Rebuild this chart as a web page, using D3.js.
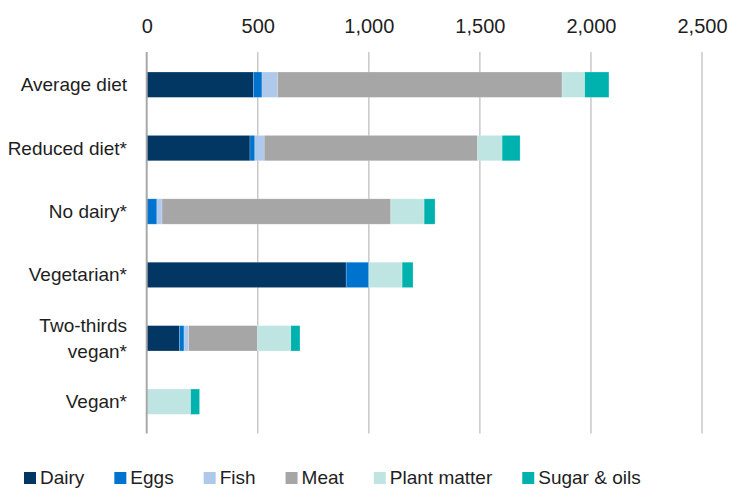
<!DOCTYPE html>
<html><head><meta charset="utf-8">
<script src="https://cdn.jsdelivr.net/npm/d3@7"></script>
<style>body{margin:0;background:#fff}svg{display:block}text{font-family:"Liberation Sans",Arial,sans-serif;fill:#1e1e1e}</style>
</head><body><svg id="c" width="731" height="488"></svg>
<script>
const categories = ["Average diet","Reduced diet*","No dairy*","Vegetarian*","Two-thirds vegan*","Vegan*"];
const seriesNames = ["Dairy","Eggs","Fish","Meat","Plant matter","Sugar & oils"];
const colors = ["#023764","#0073CF","#AEC9EB","#A6A6A6","#BFE5E2","#00B2AE"];
const dairy  = [480, 465,   0, 898, 147,   0];
const eggs   = [ 39,  22,  46, 102,  21,   0];
const fish   = [ 70,  42,  23,   0,  21,   0];
const meat   = [1281, 961, 1030,  0, 309,   0];
const plant  = [102, 110, 150, 150, 151, 198];
const sugar  = [109,  81,  49,  49,  41,  40];
const tickValues = [0,500,1000,1500,2000,2500];

const series = [dairy,eggs,fish,meat,plant,sugar];
const rows = categories.map((c,i)=>{const r={cat:c};seriesNames.forEach((s,j)=>r[s]=series[j][i]);return r;});
const stacked = d3.stack().keys(seriesNames)(rows);

const svg = d3.select("#c");
const x = d3.scaleLinear().domain([0,2500]).range([146.7,702]);
const y = d3.scaleBand().domain(categories).range([53,433.4]).paddingInner(0.6).paddingOuter(0.3);

// gridlines
svg.append("g").selectAll("line").data(tickValues.slice(1)).join("line")
  .attr("x1",d=>x(d)).attr("x2",d=>x(d)).attr("y1",52).attr("y2",433.4)
  .attr("stroke","#c4c4c4").attr("stroke-width",1.4);

// top axis labels
const ax = svg.append("g").attr("transform","translate(0,32.5)")
  .call(d3.axisTop(x).tickValues(tickValues).tickSize(0).tickPadding(0).tickFormat(d3.format(",")));
ax.select(".domain").remove();
ax.selectAll("text").attr("font-size",20).attr("font-family","Liberation Sans, Arial, sans-serif").attr("fill","#1e1e1e").attr("dy",0);

// bars
svg.append("g").selectAll("g").data(stacked).join("g")
  .attr("fill",(d,i)=>colors[i])
  .selectAll("rect").data(d=>d).join("rect")
  .attr("x",d=>x(d[0])).attr("width",d=>Math.max(0,x(d[1])-x(d[0])))
  .attr("y",d=>y(d.data.cat)).attr("height",y.bandwidth())
  .attr("stroke","rgba(255,255,255,0.35)").attr("stroke-width",0.6);

// zero axis line
svg.append("line").attr("x1",x(0)).attr("x2",x(0)).attr("y1",52).attr("y2",433.4)
  .attr("stroke","#a8a8a8").attr("stroke-width",2);

// category labels
const lab = svg.append("g").selectAll("text").data(categories).join("text")
  .attr("text-anchor","end").attr("font-size",19)
  .attr("x",127);
lab.each(function(d){
  const t=d3.select(this); const cy=y(d)+y.bandwidth()/2;
  if(d==="Two-thirds vegan*"){
    t.append("tspan").attr("x",127).attr("y",cy-6.6).text("Two-thirds");
    t.append("tspan").attr("x",127).attr("y",cy+20).text("vegan*");
  } else { t.attr("y",cy+6.5).text(d); }
});

// legend
const lg = svg.append("g");
let lx = 24;
seriesNames.forEach((s,i)=>{
  lg.append("rect").attr("x",lx).attr("y",472).attr("width",12).attr("height",12).attr("fill",colors[i]);
  const t = lg.append("text").attr("x",lx+16).attr("y",483.5).attr("font-size",19).text(s);
  lx += 16 + t.node().getComputedTextLength() + 30;
});
</script></body></html>
